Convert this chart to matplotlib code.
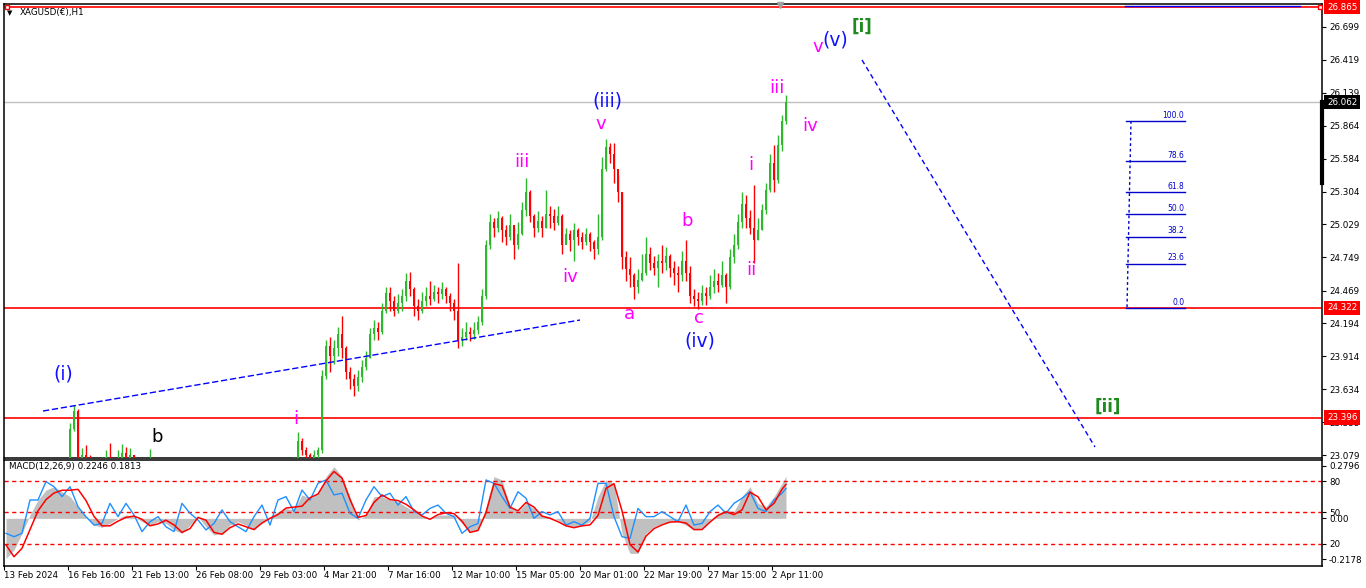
import numpy as np
import matplotlib
matplotlib.use("Agg")
import matplotlib.pyplot as plt
from matplotlib.transforms import blended_transform_factory

# hourly bars (bar index = one column of candles)
close = [22.70, 22.72, 22.75, 22.78, 22.80, 22.78, 22.82, 22.85, 22.88, 22.86,
         22.90, 22.92, 22.95, 22.93, 22.97, 23.00, 23.30, 23.45, 22.98, 23.08,
         23.02, 22.98, 22.95, 22.97, 23.00, 23.06, 23.02, 22.98, 23.05, 23.10,
         23.04, 23.08, 22.98, 22.95, 22.97, 22.94, 22.96, 22.98, 22.95, 22.92,
         22.88, 22.85, 22.82, 22.86, 22.90, 22.93, 22.90, 22.86, 22.82, 22.78,
         22.80, 22.84, 22.88, 22.86, 22.82, 22.80, 22.78, 22.75, 22.79, 22.84,
         22.88, 22.86, 22.90, 22.93, 22.91, 22.94, 22.96, 22.92, 22.95, 22.98,
         22.96, 23.00, 23.02, 23.20, 23.12, 23.08, 23.05, 23.08, 23.12, 23.75,
         24.00, 23.92, 23.98, 24.10, 23.98, 23.78, 23.72, 23.66, 23.74, 23.82,
         23.90, 24.10, 24.15, 24.12, 24.30, 24.45, 24.38, 24.30, 24.36, 24.42,
         24.55, 24.48, 24.34, 24.30, 24.38, 24.42, 24.40, 24.46, 24.44, 24.48,
         24.42, 24.36, 24.30, 24.05, 24.08, 24.12, 24.10, 24.14, 24.20, 24.42,
         24.85, 25.05, 25.00, 25.08, 24.98, 24.92, 25.02, 24.85, 24.95, 25.15,
         25.30, 25.10, 25.00, 25.06, 25.00, 25.12, 25.10, 25.04, 25.10, 24.85,
         24.95, 24.90, 24.98, 24.92, 24.88, 24.95, 24.88, 24.82, 24.92, 25.50,
         25.68, 25.62, 25.50, 25.30, 24.75, 24.65, 24.60, 24.50, 24.56, 24.62,
         24.78, 24.70, 24.66, 24.72, 24.70, 24.76, 24.66, 24.62, 24.60, 24.72,
         24.62, 24.42, 24.40, 24.38, 24.45, 24.42, 24.50, 24.55, 24.52, 24.60,
         24.50, 24.75, 24.85, 25.05, 25.20, 25.08, 25.00, 24.90, 24.98, 25.15,
         25.32, 25.55, 25.40, 25.70, 25.90, 26.06]
high = [22.76, 22.77, 22.80, 22.83, 22.85, 22.84, 22.87, 22.90, 22.93, 22.92,
        22.95, 22.97, 23.00, 22.99, 23.02, 23.04, 23.35, 23.50, 23.47, 23.14,
        23.16, 23.08, 23.00, 23.02, 23.06, 23.12, 23.18, 23.06, 23.12, 23.17,
        23.15, 23.14, 23.08, 23.02, 23.00, 23.00, 23.13, 23.04, 23.00, 22.97,
        22.95, 22.90, 22.88, 22.90, 22.95, 22.98, 22.96, 22.92, 22.88, 22.85,
        22.84, 22.88, 22.93, 22.92, 22.88, 22.85, 22.84, 22.80, 22.84, 22.88,
        22.93, 22.92, 22.95, 22.98, 22.97, 22.99, 23.01, 22.98, 23.00, 23.03,
        23.02, 23.04, 23.06, 23.27, 23.22, 23.15, 23.10, 23.12, 23.15, 23.80,
        24.05, 24.08, 24.05, 24.16, 24.25, 24.00, 23.82, 23.76, 23.80, 23.88,
        23.96, 24.15, 24.22, 24.20, 24.36, 24.50, 24.50, 24.42, 24.44, 24.48,
        24.62, 24.63, 24.50, 24.40, 24.46, 24.50, 24.55, 24.52, 24.50, 24.54,
        24.50, 24.45, 24.40, 24.70, 24.15, 24.20, 24.16, 24.20, 24.25, 24.48,
        24.90, 25.12, 25.08, 25.14, 25.10, 25.02, 25.12, 25.00, 25.05, 25.22,
        25.42, 25.32, 25.12, 25.14, 25.10, 25.32, 25.18, 25.16, 25.18, 25.12,
        25.00, 24.98, 25.04, 25.00, 24.96, 25.00, 24.96, 24.90, 25.12, 25.60,
        25.75, 25.72, 25.72, 25.45, 25.30, 24.80, 24.75, 24.62, 24.65, 24.78,
        24.92, 24.84, 24.76, 24.78, 24.85, 24.84, 24.78, 24.72, 24.68, 24.80,
        24.90, 24.68, 24.48, 24.46, 24.52, 24.50, 24.60, 24.65, 24.62, 24.72,
        24.62, 24.82, 24.95, 25.12, 25.30, 25.28, 25.15, 25.36, 25.08, 25.20,
        25.38, 25.62, 25.70, 25.78, 25.95, 26.12]
low = [22.65, 22.67, 22.70, 22.73, 22.75, 22.74, 22.77, 22.80, 22.83, 22.82,
       22.85, 22.87, 22.90, 22.88, 22.91, 22.94, 23.00, 23.28, 22.94, 22.95,
       22.96, 22.90, 22.88, 22.90, 22.92, 22.98, 22.98, 22.92, 22.95, 23.00,
       23.00, 23.00, 22.92, 22.90, 22.90, 22.88, 22.90, 22.92, 22.90, 22.86,
       22.83, 22.80, 22.78, 22.80, 22.84, 22.88, 22.85, 22.82, 22.78, 22.74,
       22.75, 22.78, 22.82, 22.80, 22.78, 22.75, 22.72, 22.70, 22.74, 22.78,
       22.83, 22.80, 22.84, 22.88, 22.86, 22.88, 22.90, 22.87, 22.90, 22.92,
       22.90, 22.94, 22.96, 23.00, 23.08, 23.04, 23.02, 23.03, 23.05, 23.10,
       23.72, 23.78, 23.85, 23.92, 23.90, 23.72, 23.64, 23.58, 23.62, 23.70,
       23.80, 23.90, 24.05, 24.05, 24.10, 24.28, 24.30, 24.25, 24.28, 24.30,
       24.38, 24.42, 24.25, 24.22, 24.28, 24.34, 24.35, 24.38, 24.36, 24.40,
       24.36, 24.30, 24.22, 23.98, 24.00, 24.05, 24.04, 24.06, 24.10, 24.18,
       24.40, 24.82, 24.92, 24.96, 24.88, 24.85, 24.90, 24.74, 24.82, 24.94,
       25.10, 25.05, 24.92, 24.96, 24.92, 25.00, 25.00, 24.98, 25.02, 24.78,
       24.86, 24.80, 24.72, 24.85, 24.82, 24.85, 24.80, 24.74, 24.78, 24.90,
       25.48, 25.55, 25.38, 25.22, 24.65, 24.55, 24.50, 24.40, 24.45, 24.55,
       24.60, 24.64, 24.60, 24.50, 24.62, 24.64, 24.58, 24.52, 24.46, 24.55,
       24.55, 24.36, 24.34, 24.31, 24.35, 24.35, 24.40, 24.45, 24.46, 24.50,
       24.36, 24.48, 24.70, 24.82, 25.00, 25.00, 24.95, 24.70, 24.90, 24.98,
       25.12, 25.30, 25.30, 25.38, 25.65, 25.88]
first_open = 22.68

# MACD panel, one value every second bar plus the last bar
macd_main = [-0.214, -0.169, -0.080, 0.018, 0.098, 0.151, 0.169, 0.142, 0.116, 0.062,
             0.009, -0.036, -0.048, -0.027, 0.000, 0.018, 0.009, -0.018, -0.036, -0.018,
             -0.027, -0.062, -0.080, -0.036, 0.009, -0.045, -0.089, -0.080, -0.036, -0.018,
             -0.036, -0.062, -0.018, 0.009, 0.036, 0.053, 0.045, 0.125, 0.107, 0.134,
             0.223, 0.276, 0.223, 0.116, -0.009, 0.018, 0.116, 0.116, 0.098, 0.089,
             0.062, 0.036, 0.009, 0.000, 0.018, 0.018,
             0.018, -0.027, -0.071, -0.062, 0.062, 0.223, 0.205, 0.062, 0.036, 0.080,
             0.053, 0.018, 0.009, -0.009, -0.036, -0.045, -0.036, -0.018, 0.116, 0.205,
             0.187, -0.080, -0.187, -0.187, -0.080, -0.045, -0.027, -0.018, -0.018, -0.036,
             -0.062, -0.053, -0.009, 0.027, 0.045, 0.036, 0.116, 0.169, 0.080, 0.062,
             0.116, 0.187, 0.2246]
macd_signal = [-0.142, -0.205, -0.160, -0.060, 0.040, 0.100, 0.135, 0.150, 0.150, 0.155,
               0.095, 0.010, -0.040, -0.040, -0.015, 0.005, 0.012, -0.005, -0.040, -0.030,
               -0.010, -0.035, -0.075, -0.055, 0.005, -0.010, -0.075, -0.085, -0.050, -0.030,
               -0.045, -0.060, -0.025, 0.000, 0.020, 0.055, 0.060, 0.065, 0.110, 0.130,
               0.200, 0.250, 0.215, 0.100, 0.005, 0.015, 0.085, 0.125, 0.100, 0.095,
               0.075, 0.045, 0.012, -0.005, 0.020, 0.030,
               0.025, -0.015, -0.075, -0.065, 0.030, 0.185, 0.175, 0.060, 0.040, 0.085,
               0.060, 0.012, 0.000, -0.018, -0.040, -0.050, -0.040, -0.035, 0.015, 0.160,
               0.185, 0.040, -0.140, -0.180, -0.095, -0.055, -0.035, -0.020, -0.018, -0.025,
               -0.060, -0.060, -0.020, 0.015, 0.035, 0.020, 0.045, 0.140, 0.115, 0.045,
               0.080, 0.155, 0.1813]
macd_fast = [-0.080, -0.098, -0.080, 0.098, 0.098, 0.196, 0.169, 0.116, 0.169, 0.062,
             0.009, -0.036, -0.027, 0.080, 0.009, 0.080, 0.018, -0.071, -0.018, 0.009,
             -0.045, -0.071, 0.080, 0.027, -0.009, -0.062, -0.027, 0.045, -0.018, -0.045,
             -0.071, 0.009, 0.071, -0.036, 0.098, 0.116, 0.036, 0.151, 0.098, 0.187,
             0.205, 0.125, 0.134, 0.027, 0.000, 0.098, 0.169, 0.116, 0.134, 0.071,
             0.116, 0.036, 0.018, 0.053, 0.071, 0.027,
             0.009, -0.080, -0.045, -0.027, 0.205, 0.187, 0.116, 0.053, 0.142, 0.107,
             0.000, 0.036, 0.018, 0.036, -0.036, -0.018, -0.036, 0.000, 0.187, 0.187,
             0.009, -0.098, -0.107, 0.053, 0.009, 0.009, 0.036, 0.009, -0.018, 0.071,
             -0.036, -0.027, 0.036, 0.071, 0.027, 0.080, 0.107, 0.142, 0.053, 0.036,
             0.098, 0.134, 0.160]
macd_levels = [0.197, 0.032, -0.135]
macd_level_names = ["80", "50", "20"]

date_labels = ["13 Feb 2024", "16 Feb 16:00", "21 Feb 13:00", "26 Feb 08:00", "29 Feb 03:00",
               "4 Mar 21:00", "7 Mar 16:00", "12 Mar 10:00", "15 Mar 05:00", "20 Mar 01:00",
               "22 Mar 19:00", "27 Mar 15:00", "2 Apr 11:00"]
date_bars = [0, 16, 32, 48, 64, 80, 96, 112, 128, 144, 160, 176, 192]

price_ticks = [26.699, 26.419, 26.139, 25.864, 25.584, 25.304, 25.029,
               24.749, 24.469, 24.194, 23.914, 23.634, 23.355, 23.079]
top_line = 26.865
bid = 26.062
support = 24.322
lower = 23.396

fib_ratios = [0.0, 23.6, 38.2, 50.0, 61.8, 78.6, 100.0]
fib_low, fib_high = 24.322, 25.902

# wave labels: text, bar, price, colour
waves = [("(i)", 14.25, 23.764, "blue"), ("b", 37.75, 23.23, "black"),
         ("i", 72.5, 23.38, "magenta"), ("iii", 129, 25.556, "magenta"),
         ("iv", 141, 24.58, "magenta"), ("(iii)", 150.25, 26.07, "blue"),
         ("v", 148.75, 25.877, "magenta"), ("a", 155.75, 24.27, "magenta"),
         ("b", 170.25, 25.057, "magenta"), ("c", 173.25, 24.237, "magenta"),
         ("(iv)", 173.5, 24.043, "blue"), ("i", 186.25, 25.53, "magenta"),
         ("ii", 186.25, 24.643, "magenta"), ("iii", 192.75, 26.18, "magenta"),
         ("iv", 201, 25.86, "magenta"), ("v", 203, 26.53, "magenta"),
         ("(v)", 207.25, 26.587, "blue"), ("[i]", 214, 26.697, "green"),
         ("[ii]", 275.5, 23.49, "green")]
trend_x, trend_y = [9.25, 143.5], [23.451, 24.22]
proj_x, proj_y = [214, 272.25], [26.418, 23.147]

W, H = 1366, 588
fig = plt.figure(figsize=(W / 100, H / 100), dpi=100)
fig.patch.set_facecolor("white")
ax = fig.add_axes([4 / W, 1 - 458 / H, 1318 / W, 454 / H])
ax2 = fig.add_axes([4 / W, 1 - 566 / H, 1318 / W, 106 / H])
xlim = (-0.5, -0.5 + 1318 / 4)

# candles
c = np.array(close)
o = np.array([first_open] + close[:-1])
x = np.arange(len(c))
cols = np.where(c >= o, "#2db82d", "#ff0000")
ax.vlines(x, low, high, colors=cols, lw=1.0, zorder=3)
body = np.maximum(np.abs(c - o), 0.006)
ax.bar(x, body, bottom=np.minimum(o, c), width=0.72, color=cols, lw=0, zorder=3)

# horizontal levels
ax.axhline(top_line, color="red", lw=1.2, zorder=2)
ax.axhline(bid, color="#c0c0c0", lw=1, zorder=1)
ax.axhline(support, color="red", lw=1.2, zorder=2)
ax.axhline(lower, color="red", lw=1.2, zorder=2)
ax.plot([0.25, xlim[1] - 0.6], [top_line, top_line], ls="none", marker="s", ms=3.5,
        mfc="white", mec="red", mew=1, zorder=4)
ax.plot([193.5], [26.885], marker="v", color="#a0a0a0", ms=5, zorder=4, clip_on=False)
ax.plot([279.75, 323.5], [26.874, 26.874], color="blue", lw=1, zorder=2)

# dashed trend lines
ax.plot(trend_x, trend_y, color="blue", lw=1, dashes=(4.5, 2), zorder=4)
ax.plot(proj_x, proj_y, color="blue", lw=1, dashes=(3.5, 2.5), zorder=4)

# fibonacci retracement
for r in fib_ratios:
    lvl = fib_low + (fib_high - fib_low) * r / 100
    ax.plot([280, 294.75], [lvl, lvl], color="#0000cd", lw=1, zorder=4)
    ax.text(294.6, lvl + 0.012, "%.1f" % r, color="#0000cd", fontsize=5.5,
            ha="right", va="bottom", zorder=5)
ax.plot([281.25, 280.25], [fib_high, fib_low], color="#0000cd", lw=1, dashes=(2, 2), zorder=4)

for s, bx, py, col in waves:
    fc = {"blue": "#1010ff", "magenta": "#ff00ff", "green": "#1f8a1f", "black": "black"}[col]
    size = 13.5 if col == "blue" else (12 if col == "green" else 13)
    ax.text(bx, py, s, color=fc, fontsize=size, ha="center", va="center",
            fontweight="bold" if col == "green" else "normal", zorder=6)

ax.set_xlim(*xlim)
ax.set_ylim(23.054, 26.891)
ax.set_xticks([])
ax.yaxis.tick_right()
ax.set_yticks(price_ticks)
ax.set_yticklabels(["%.3f" % t for t in price_ticks])
ax.tick_params(axis="y", direction="out", length=3, width=0.8, pad=2, labelsize=6.3)
for sp in ax.spines.values():
    sp.set_linewidth(1.1)

# price boxes on the scale
trans = blended_transform_factory(ax.transAxes, ax.transData)
for val, fc in [(top_line, "red"), (bid, "black"), (support, "red"), (lower, "red")]:
    ax.text(1 + 5 / 1318, val, "%.3f" % val, transform=trans, color="white", fontsize=6.3,
            ha="left", va="center", zorder=7,
            bbox=dict(boxstyle="square,pad=0.32", fc=fc, ec="none"))
ax.plot([1, 1], [25.38, 26.06], transform=trans, color="black", lw=3, clip_on=False, zorder=7)

fig.text(20 / W, 1 - 13 / H, "XAGUSD(€),H1", fontsize=6.3, va="center", ha="left")
fig.text(10 / W, 1 - 13 / H, "▼", fontsize=5, va="center", ha="center")

# MACD panel
mx = list(range(0, len(close), 2)) + [len(close) - 1]
ax2.fill_between(mx, 0, macd_main, color="#c0c0c0", lw=0, zorder=1)
for lv in macd_levels:
    ax2.axhline(lv, color="red", lw=1, dashes=(3, 2.5), zorder=2)
ax2.plot(mx, macd_fast, color="#1e90ff", lw=1, zorder=3)
ax2.plot(mx, macd_signal, color="red", lw=1.1, zorder=4)
ax2.set_xlim(*xlim)
ax2.set_ylim(-0.2545, 0.3115)
ax2.text(5 / 1318, 0.275, "MACD(12,26,9) 0.2246 0.1813", transform=blended_transform_factory(
    ax2.transAxes, ax2.transData), fontsize=6.3, va="center", ha="left")
ax2.yaxis.tick_right()
mt = [0.2796] + macd_levels[:2] + [0.0, macd_levels[2], -0.2178]
ax2.set_yticks(mt)
ax2.set_yticklabels(["0.2796", macd_level_names[0], macd_level_names[1], "0.00",
                     macd_level_names[2], "-0.2178"])
ax2.tick_params(axis="y", direction="out", length=3, width=0.8, pad=2, labelsize=6.3)
ax2.set_xticks([b - 0.5 for b in date_bars])
ax2.set_xticklabels([])
ax2.tick_params(axis="x", direction="out", length=3, width=0.8)
for sp in ax2.spines.values():
    sp.set_linewidth(1.1)
dtrans = blended_transform_factory(ax2.transData, fig.transFigure)
for b, lab in zip(date_bars, date_labels):
    ax2.text(b - 0.5, 1 - 575 / H, lab, transform=dtrans, fontsize=6.3, ha="left",
             va="center", clip_on=False)

fig.savefig("out.png", dpi=100)
